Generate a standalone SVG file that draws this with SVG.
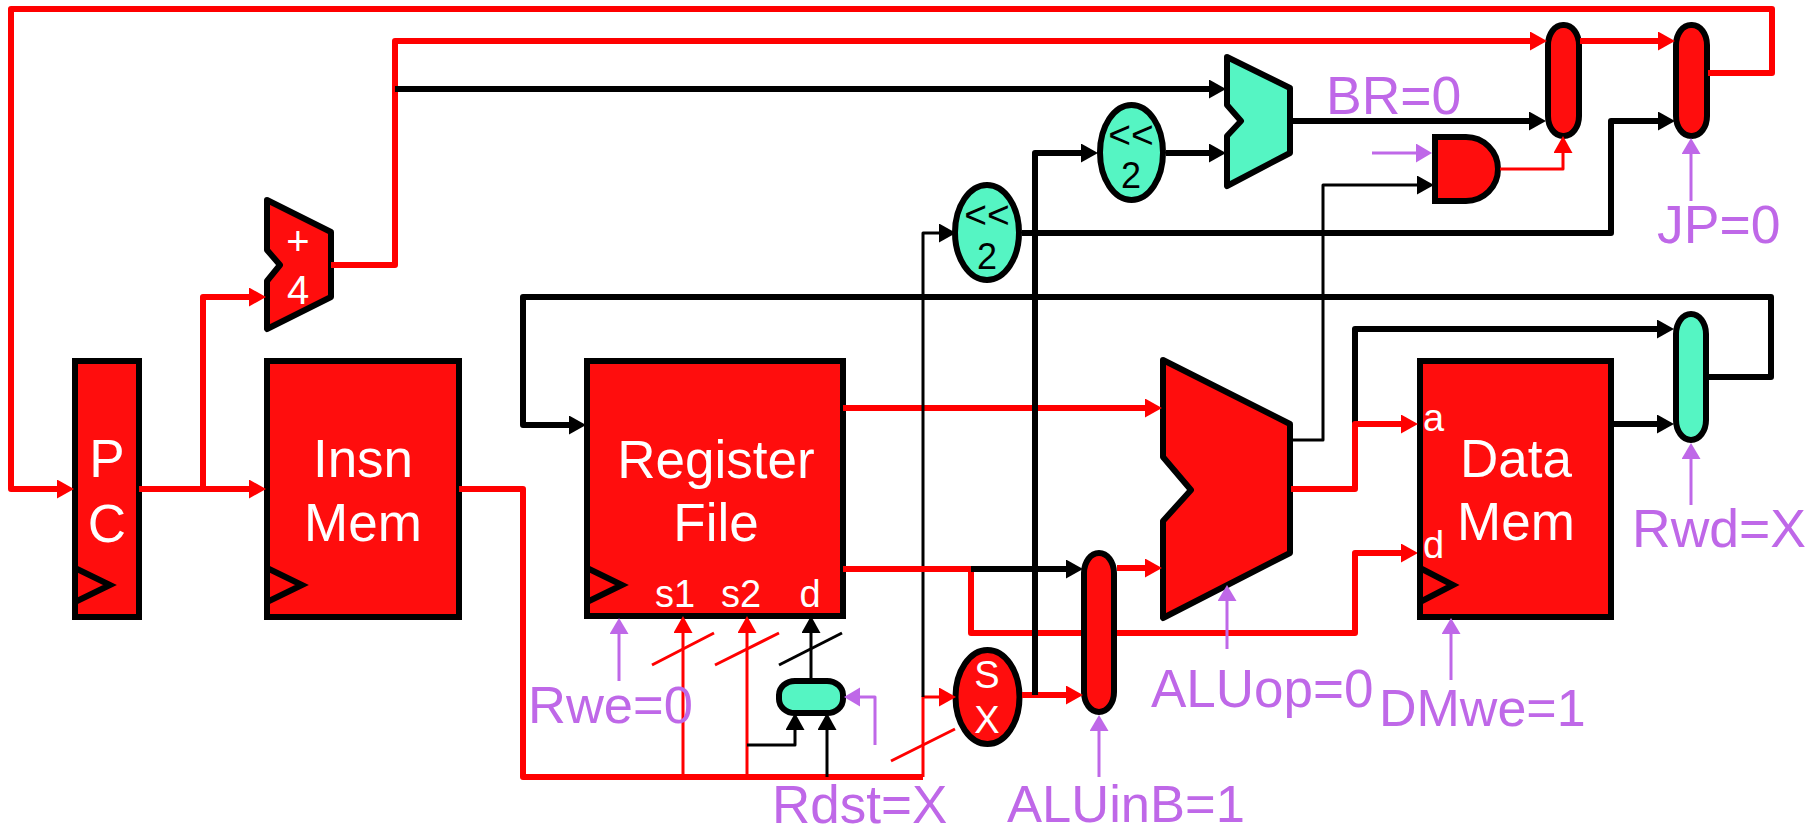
<svg xmlns="http://www.w3.org/2000/svg" width="1819" height="826" viewBox="0 0 1819 826">
<style>
text{font-family:"Liberation Sans",Arial,sans-serif}
.w{fill:#fff;font-size:53px;text-anchor:middle}
.s{fill:#fff;font-size:38px;text-anchor:middle}
.k{fill:#000;font-size:36px;text-anchor:middle}
.c{fill:#bf68e8;font-size:53px}
.n{stroke:#000;stroke-width:6;stroke-linejoin:round}
rect.sq{stroke-linejoin:miter}
.red{fill:#ff0d0d}.teal{fill:#55f5c3}
.clk{fill:none;stroke:#000;stroke-width:6;stroke-linejoin:miter}
path.l{fill:none;stroke-linejoin:round}
.R{stroke:#ff0000;stroke-width:6}.K{stroke:#000;stroke-width:6}
.r{stroke:#ff0000;stroke-width:3}.b{stroke:#000;stroke-width:3}.p{stroke:#bf68e8;stroke-width:3}
.aR{marker-end:url(#mR)}.aK{marker-end:url(#mK)}.aP{marker-end:url(#mP)}
</style>
<defs>
<marker id="mR" markerUnits="userSpaceOnUse" markerWidth="18" markerHeight="20" refX="0" refY="9.5" orient="auto"><polygon points="0,0 17,9.5 0,19" fill="#ff0000"/></marker>
<marker id="mK" markerUnits="userSpaceOnUse" markerWidth="18" markerHeight="20" refX="0" refY="9.5" orient="auto"><polygon points="0,0 17,9.5 0,19" fill="#000"/></marker>
<marker id="mP" markerUnits="userSpaceOnUse" markerWidth="18" markerHeight="20" refX="0" refY="9.5" orient="auto"><polygon points="0,0 16,9.5 0,19" fill="#bf68e8"/></marker>
</defs>
<g id="connectors-behind">
<path class="l R aR" d="M971 569V633H1355V553H1401"/>
</g>
<g id="pc"><rect class="n red sq" x="75" y="361" width="64" height="256"/><path class="clk" d="M75 568L110 585L75 602"/><text class="w" x="107" y="477">P</text><text class="w" x="107" y="542">C</text></g>
<g id="adder"><path class="n red" d="M267 200L331 232V297L267 329V281L280 265L267 250Z"/><text class="s" x="298" y="255" style="font-size:40px">+</text><text class="s" x="298" y="304" style="font-size:40px">4</text></g>
<g id="insn-mem"><rect class="n red sq" x="267" y="361" width="192" height="256"/><path class="clk" d="M267 568L302 585L267 602"/><text class="w" x="363" y="477">Insn</text><text class="w" x="363" y="541">Mem</text></g>
<g id="register-file"><rect class="n red sq" x="587" y="361" width="256" height="255"/><path class="clk" d="M587 568L622 585L587 602"/><text class="w" x="716" y="478">Register</text><text class="w" x="716" y="541">File</text><text class="s" x="675" y="607">s1</text><text class="s" x="741" y="607">s2</text><text class="s" x="810" y="607">d</text></g>
<g id="rdst-mux"><rect class="n teal" x="779" y="681" width="64" height="32" rx="16" ry="14"/></g>
<g id="sx"><ellipse class="n red" cx="987.5" cy="697" rx="32" ry="47"/><text class="s" x="987" y="688">S</text><text class="s" x="987" y="733">X</text></g>
<g id="shift-lower"><ellipse class="n teal" cx="987" cy="232.5" rx="32" ry="47.5"/><text class="k" x="987" y="228" style="font-size:39px">&lt;&lt;</text><text class="k" x="987" y="269">2</text></g>
<g id="shift-upper"><ellipse class="n teal" cx="1131.5" cy="152.5" rx="31.5" ry="47.5"/><text class="k" x="1131" y="148" style="font-size:39px">&lt;&lt;</text><text class="k" x="1131" y="188">2</text></g>
<g id="branch-adder"><path class="n teal" d="M1227 57L1290 88V153L1227 186V136L1241 121L1227 105Z"/></g>
<g id="and-gate"><path class="n red" style="stroke-linejoin:miter" d="M1435 137H1466A32 32 0 0 1 1466 201H1435Z"/></g>
<g id="alu-b-mux"><rect class="n red" x="1084" y="553" width="30" height="159" rx="15" ry="20"/></g>
<g id="alu"><path class="n red" d="M1163 360L1290 424V553L1163 618V521L1191 490L1163 457Z"/></g>
<g id="data-mem"><rect class="n red sq" x="1420" y="361" width="191" height="256"/><path class="clk" d="M1420 568L1453 585L1420 602"/><text class="w" x="1516" y="477">Data</text><text class="w" x="1516" y="540">Mem</text><text class="s" x="1423" y="431" style="text-anchor:start">a</text><text class="s" x="1423" y="558" style="text-anchor:start">d</text></g>
<g id="rwd-mux"><rect class="n teal" x="1676" y="314" width="30" height="126" rx="15" ry="20"/></g>
<g id="pc-mux-br"><rect class="n red" x="1548" y="25" width="31" height="111" rx="15" ry="20"/></g>
<g id="pc-mux-jp"><rect class="n red" x="1676" y="25" width="31" height="111" rx="15" ry="20"/></g>
<g id="connectors">
<path class="l R aR" d="M1708 73H1772V9H11V489H57"/>
<path class="l R" d="M139 489H203"/>
<path class="l R aR" d="M203 489H249"/>
<path class="l R aR" d="M203 489V297H249"/>
<path class="l R aR" d="M331 265H395V41H1530"/>
<path class="l K aK" d="M395 89H1209"/>
<path class="l R aR" d="M1580 41H1658"/>
<path class="l K aK" d="M1290 121H1529"/>
<path class="l K aK" d="M1022 233H1611V121H1658"/>
<path class="l K aK" d="M1166 153H1209"/>
<path class="l K aK" d="M1709 377H1771V297H523V425H569"/>
<path class="l R" d="M459 489H523V777H923"/>
<path class="l r aR" d="M683 777V633"/>
<path class="l r aR" d="M747 777V633"/>
<path class="l b aK" d="M827 777V730"/>
<path class="l b aK" d="M747 745H795V730"/>
<path class="l b aK" d="M811 678V633"/>
<path class="l r" d="M652 665L714 633M715 665L779 633M891 761L955 729"/>
<path class="l b" d="M779 665L842 633"/>
<path class="l r aR" d="M923 777V697H939"/>
<path class="l R aR" d="M843 408H1145"/>
<path class="l b aK" d="M923 697V233H939"/>
<path class="l R" d="M843 569H971"/>
<path class="l K aK" d="M971 569H1066"/>
<path class="l R aR" d="M1022 695H1066"/>
<path class="l K aK" d="M1035 695V153H1081"/>
<path class="l R aR" d="M1117 568H1145"/>
<path class="l b aK" d="M1291 440H1323V185H1417"/>
<path class="l K aK" d="M1355 424V329H1657"/>
<path class="l R aR" d="M1291 489H1355V424H1401"/>
<path class="l K aK" d="M1614 424H1657"/>
<path class="l r aR" d="M1500 169H1563V153"/>
</g>
<g id="controls">
<path class="l p aP" d="M619 681V634"/>
<path class="l p aP" d="M875 745V697H860"/>
<path class="l p aP" d="M1099 777V731"/>
<path class="l p aP" d="M1227 649V601"/>
<path class="l p aP" d="M1451 680V634"/>
<path class="l p aP" d="M1691 505V459"/>
<path class="l p aP" d="M1691 201V154"/>
<path class="l p aP" d="M1372 153H1416"/>
<text class="c" x="528" y="723" style="font-size:52.5px">Rwe=0</text>
<text class="c" x="772" y="823">Rdst=X</text>
<text class="c" x="1007" y="822" style="font-size:52.5px">ALUinB=1</text>
<text class="c" x="1151" y="707">ALUop=0</text>
<text class="c" x="1379" y="726" style="font-size:52px">DMwe=1</text>
<text class="c" x="1632" y="547" style="font-size:53.5px">Rwd=X</text>
<text class="c" x="1657" y="243" style="font-size:53.5px">JP=0</text>
<text class="c" x="1326" y="114" style="font-size:53.5px">BR=0</text>
</g>
</svg>
